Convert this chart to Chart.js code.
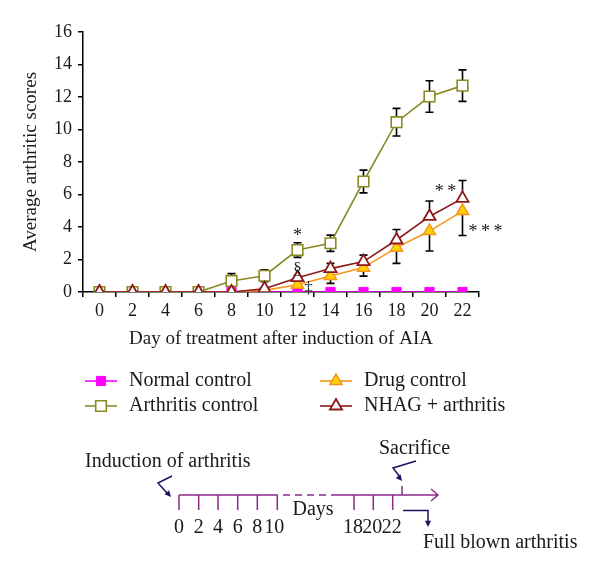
<!DOCTYPE html>
<html>
<head>
<meta charset="utf-8">
<script src="https://cdn.jsdelivr.net/npm/chart.js@4.4.0/dist/chart.umd.min.js"></script>
<style>
html, body { margin: 0; padding: 0; background: #fff; }
#wrap { width: 600px; height: 577px; position: relative; }
</style>
</head>
<body>
<div id="wrap"><canvas id="arthritisChart"></canvas></div>
<script>
const days = ['0','2','4','6','8','10','12','14','16','18','20','22'];
const yTicks = [0,2,4,6,8,10,12,14,16];

const normalControl = [0,0,0,0,0,0,0,0,0,0,0,0];
const arthritisControl = [0,0,0,0,0.68,1.0,2.58,3.0,6.8,10.45,12.03,12.7];
const arthritisErr = [0,0,0,0,0.45,0.37,0.45,0.5,0.7,0.85,0.97,0.97];
const drugControl = [0,0,0,0,0,0.1,0.45,0.98,1.5,2.73,3.75,4.98];
const drugErr = [0,0,0,0,0,0,0,0.45,0.52,0.97,1.23,1.5];
const nhagArthritis = [0,0,0,0,0,0.2,0.88,1.44,1.87,3.2,4.65,5.76];
const nhagErr = [0,0,0,0,0,0,0.1,0.32,0.4,0.65,0.95,1.1];

// significance marks: [day index, value, dx, text, font size]
const marks = [
    [6, 3.45, 0, '*', 18],
    [6, 1.4, 0, '§', 17],
    [6, 0.2, 11, '‡', 17],
    [11, 6.15, -17, '*\u2009*', 18],
    [11, 3.7, 23, '*\u2009*\u2009*', 18]
];

const timelineA = ['0','2','4','6','8','10'];
const timelineB = ['18','20','22'];

const serif = '"Liberation Serif", "DejaVu Serif", serif';
const ink = '#1a1a1a';

function marker(ctx, style, x, y, r, fill, stroke, lw) {
    ctx.save();
    ctx.beginPath();
    if (style === 'rect') {
        const s = r / Math.SQRT2;
        ctx.rect(x - s, y - s, 2 * s, 2 * s);
    } else {
        ctx.moveTo(x, y - r);
        ctx.lineTo(x + r * Math.sin(Math.PI / 3), y + r * 0.5);
        ctx.lineTo(x - r * Math.sin(Math.PI / 3), y + r * 0.5);
        ctx.closePath();
    }
    ctx.fillStyle = fill;
    ctx.fill();
    ctx.lineWidth = lw;
    ctx.strokeStyle = stroke;
    ctx.stroke();
    ctx.restore();
}

const errorBars = {
    id: 'errorBars',
    beforeDatasetsDraw(chart) {
        const ctx = chart.ctx;
        const xs = chart.scales.x, ys = chart.scales.y;
        ctx.save();
        ctx.strokeStyle = '#000';
        ctx.lineWidth = 1.6;
        chart.data.datasets.forEach(ds => {
            if (!ds.err) return;
            ds.data.forEach((v, i) => {
                const e = ds.err[i];
                if (!e) return;
                const x = xs.getPixelForValue(i);
                const hi = ds.errDir === 'down' ? v : v + e;
                const lo = ds.errDir === 'up' ? v : v - e;
                const yh = ys.getPixelForValue(hi), yl = ys.getPixelForValue(lo);
                ctx.beginPath();
                ctx.moveTo(x, yh); ctx.lineTo(x, yl);
                if (ds.errDir !== 'down') { ctx.moveTo(x - 4, yh); ctx.lineTo(x + 4, yh); }
                if (ds.errDir !== 'up') { ctx.moveTo(x - 4, yl); ctx.lineTo(x + 4, yl); }
                ctx.stroke();
            });
        });
        ctx.restore();
    }
};

function arrowHead(ctx, x, y, ang, size) {
    ctx.beginPath();
    ctx.moveTo(x, y);
    ctx.lineTo(x - size * Math.cos(ang - 0.45), y - size * Math.sin(ang - 0.45));
    ctx.lineTo(x - size * Math.cos(ang + 0.45), y - size * Math.sin(ang + 0.45));
    ctx.closePath();
    ctx.fill();
}

const extras = {
    id: 'extras',
    afterDraw(chart) {
        const ctx = chart.ctx;
        const xs = chart.scales.x, ys = chart.scales.y;
        ctx.save();
        ctx.fillStyle = ink;
        ctx.textAlign = 'center';
        ctx.textBaseline = 'middle';

        // significance marks
        marks.forEach(m => {
            ctx.font = m[4] + 'px ' + serif;
            ctx.fillText(m[3], xs.getPixelForValue(m[0]) + m[2], ys.getPixelForValue(m[1]));
        });

        // legend: [dataset index, sample centre x, row y]
        const rows = [[3, 101, 381], [2, 101, 406], [1, 336, 381], [0, 336, 406]];
        ctx.textAlign = 'left';
        ctx.font = '20px ' + serif;
        rows.forEach(r => {
            const ds = chart.data.datasets[r[0]];
            ctx.strokeStyle = ds.borderColor;
            ctx.lineWidth = 1.6;
            ctx.beginPath();
            ctx.moveTo(r[1] - 16, r[2]); ctx.lineTo(r[1] + 16, r[2]);
            ctx.stroke();
            marker(ctx, ds.pointStyle, r[1], r[2], ds.pointRadius, ds.pointBackgroundColor, ds.pointBorderColor, ds.pointBorderWidth);
            ctx.fillStyle = ink;
            ctx.fillText(ds.label, r[1] + 28, r[2]);
        });

        // timeline diagram
        const purple = '#8e2a8e', navy = '#1b1464';
        ctx.strokeStyle = purple;
        ctx.lineWidth = 1.5;
        ctx.beginPath();
        ctx.moveTo(179, 495); ctx.lineTo(278, 495);
        ctx.moveTo(337, 495); ctx.lineTo(438, 495);
        ctx.moveTo(431, 489); ctx.lineTo(438, 495); ctx.lineTo(431, 501);
        ctx.moveTo(402, 486); ctx.lineTo(402, 495);
        const tA = [179, 198.7, 218, 237.7, 257.3, 277.3];
        const tB = [354, 373.3, 392.7];
        tA.concat(tB).forEach(x => { ctx.moveTo(x, 495); ctx.lineTo(x, 510); });
        ctx.stroke();
        ctx.setLineDash([7, 5]);
        ctx.beginPath();
        ctx.moveTo(283, 495); ctx.lineTo(337, 495);
        ctx.stroke();
        ctx.setLineDash([]);

        ctx.fillStyle = ink;
        ctx.textAlign = 'center';
        timelineA.forEach((t, i) => ctx.fillText(t, tA[i] - (t.length > 1 ? 3 : 0), 528));
        timelineB.forEach((t, i) => ctx.fillText(t, tB[i] - 1, 528));
        ctx.fillText('Days', 313, 510);
        ctx.textAlign = 'left';
        ctx.fillText('Induction of arthritis', 85, 462);
        ctx.fillText('Sacrifice', 379, 449);
        ctx.fillText('Full blown arthritis', 423, 543);

        ctx.strokeStyle = navy;
        ctx.fillStyle = navy;
        ctx.lineWidth = 1.5;
        ctx.beginPath();
        ctx.moveTo(172, 476); ctx.lineTo(158, 483); ctx.lineTo(167, 493);
        ctx.moveTo(416, 461); ctx.lineTo(393, 468); ctx.lineTo(400, 477);
        ctx.moveTo(403, 510.5); ctx.lineTo(428, 510.5); ctx.lineTo(428, 521);
        ctx.stroke();
        arrowHead(ctx, 171, 497, Math.atan2(10, 9), 7);
        arrowHead(ctx, 402, 481, Math.atan2(9, 7), 7);
        arrowHead(ctx, 428, 527, Math.PI / 2, 7);

        ctx.restore();
    }
};

const tickFont = { family: serif, size: 18 };
const titleFont = { family: serif, size: 19 };

const config = {
    type: 'line',
    data: {
        labels: days,
        datasets: [
            {
                label: 'NHAG + arthritis',
                data: nhagArthritis, err: nhagErr, errDir: 'up',
                borderColor: '#8b1a1a', borderWidth: 1.6,
                pointStyle: 'triangle', pointRadius: 7,
                pointBackgroundColor: '#ffffff', pointBorderColor: '#8b1a1a', pointBorderWidth: 1.8,
                order: 0
            },
            {
                label: 'Drug control',
                data: drugControl, err: drugErr, errDir: 'down',
                borderColor: '#f7941e', borderWidth: 1.6,
                pointStyle: 'triangle', pointRadius: 7,
                pointBackgroundColor: '#ffd200', pointBorderColor: '#f7941e', pointBorderWidth: 1.5,
                order: 1
            },
            {
                label: 'Arthritis control',
                data: arthritisControl, err: arthritisErr, errDir: 'both',
                borderColor: '#8a8a24', borderWidth: 1.6,
                pointStyle: 'rect', pointRadius: 7.5,
                pointBackgroundColor: '#ffffff', pointBorderColor: '#8a8a24', pointBorderWidth: 1.6,
                order: 2
            },
            {
                label: 'Normal control',
                data: normalControl,
                borderColor: '#ff00ff', borderWidth: 1.6,
                pointStyle: 'rect', pointRadius: 6.5,
                pointBackgroundColor: '#ff00ff', pointBorderColor: '#ff00ff', pointBorderWidth: 1,
                order: 3
            }
        ]
    },
    options: {
        responsive: true,
        maintainAspectRatio: false,
        animation: false,
        layout: { padding: { top: 32, right: 121, bottom: 227, left: 0 } },
        plugins: { legend: { display: false }, tooltip: { enabled: false } },
        scales: {
            x: {
                offset: true,
                grid: { drawOnChartArea: false, offset: true, tickLength: 5, color: '#000', lineWidth: 1.5 },
                border: { color: '#000', width: 1.5 },
                ticks: { font: tickFont, color: ink, padding: 3, maxRotation: 0 },
                title: { display: true, text: 'Day of treatment after induction of AIA', font: titleFont, color: ink, padding: { top: 4, bottom: 0 } },
                afterFit: s => { s.height = 58; }
            },
            y: {
                min: 0,
                max: 16,
                afterBuildTicks: s => { s.ticks = yTicks.map(v => ({ value: v })); },
                grid: { drawOnChartArea: false, tickLength: 5, color: '#000', lineWidth: 1.5 },
                border: { color: '#000', width: 1.5 },
                ticks: { font: tickFont, color: ink, padding: 6 },
                title: { display: true, text: 'Average arthritic scores', font: titleFont, color: ink, padding: { top: 20, bottom: 0 } },
                afterFit: s => { s.width = 83; }
            }
        }
    },
    plugins: [errorBars, extras]
};

const arthritisChart = new Chart(document.getElementById('arthritisChart'), config);
</script>
</body>
</html>
